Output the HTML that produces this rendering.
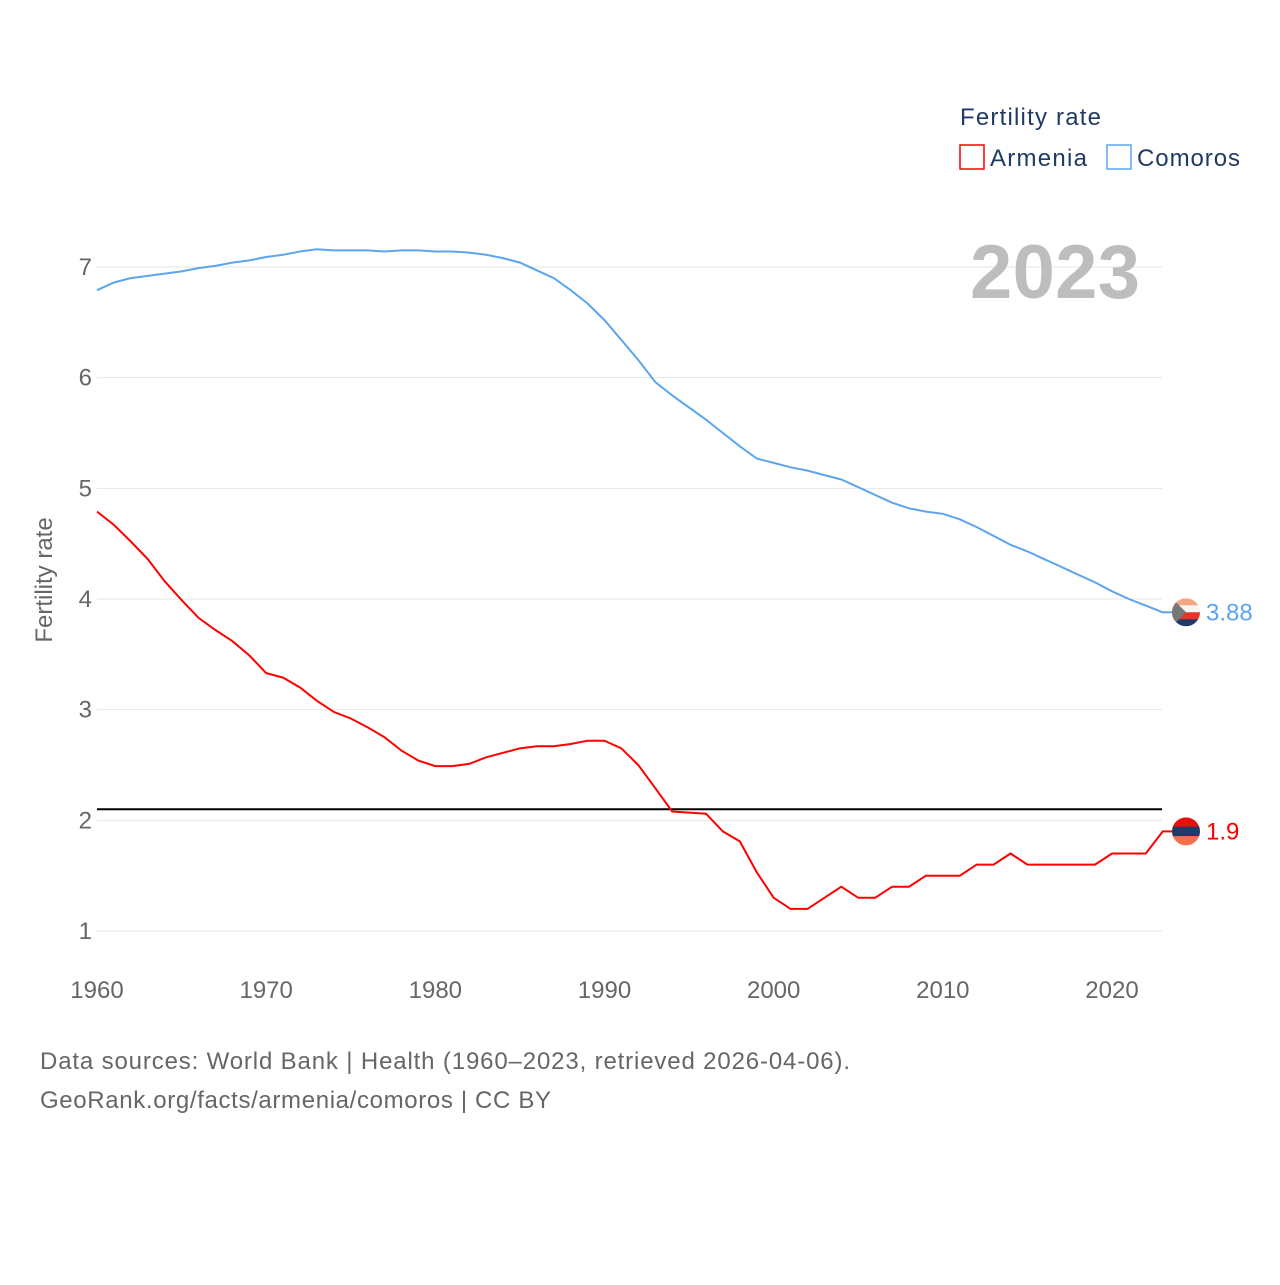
<!DOCTYPE html>
<html><head><meta charset="utf-8"><style>
body{margin:0;background:#fff;font-family:"Liberation Sans",sans-serif}
svg text{font-family:"Liberation Sans",sans-serif}
</style></head><body>
<svg width="1280" height="1280" viewBox="0 0 1280 1280">
<g id="grid"></g>
<g id="yticks"></g>
<g id="xticks"></g>
<text x="52" y="580" font-size="24" fill="#666" text-anchor="middle" transform="rotate(-90 52 580)">Fertility rate</text>
<text x="1140" y="298" font-size="76" font-weight="bold" fill="#bdbdbd" text-anchor="end" textLength="170">2023</text>
<text x="960" y="125" font-size="24" fill="#1f3a64" textLength="141">Fertility rate</text>
<g><rect x="960" y="145" width="24" height="24" fill="none" stroke="#f00" stroke-width="1.5"/><text x="990" y="166" font-size="24" fill="#1f3a64" textLength="97">Armenia</text></g>
<g><rect x="1107" y="145" width="24" height="24" fill="none" stroke="#5ca5ee" stroke-width="1.5"/><text x="1137" y="166" font-size="24" fill="#1f3a64" textLength="103">Comoros</text></g>
<g id="series"></g>
<g id="ends"></g>
<text x="40" y="1069" font-size="24" fill="#666" textLength="810">Data sources: World Bank | Health (1960–2023, retrieved 2026-04-06).</text>
<text x="40" y="1108" font-size="24" fill="#666" textLength="511">GeoRank.org/facts/armenia/comoros | CC BY</text>
</svg>
<script>
const years=[];for(let y=1960;y<=2023;y++)years.push(y);
const comoros=[6.79,6.86,6.90,6.92,6.94,6.96,6.99,7.01,7.04,7.06,7.09,7.11,7.14,7.16,7.15,7.15,7.15,7.14,7.15,7.15,7.14,7.14,7.13,7.11,7.08,7.04,6.97,6.90,6.79,6.67,6.52,6.34,6.16,5.96,5.84,5.73,5.62,5.50,5.38,5.27,5.23,5.19,5.16,5.12,5.08,5.01,4.94,4.87,4.82,4.79,4.77,4.72,4.65,4.57,4.49,4.43,4.36,4.29,4.22,4.15,4.07,4.00,3.94,3.88];
const armenia=[4.79,4.67,4.52,4.36,4.16,3.99,3.83,3.72,3.62,3.49,3.33,3.29,3.20,3.08,2.98,2.92,2.84,2.75,2.63,2.54,2.49,2.49,2.51,2.57,2.61,2.65,2.67,2.67,2.69,2.72,2.72,2.65,2.50,2.29,2.08,2.07,2.06,1.90,1.81,1.53,1.30,1.20,1.20,1.30,1.40,1.30,1.30,1.40,1.40,1.50,1.50,1.50,1.60,1.60,1.70,1.60,1.60,1.60,1.60,1.60,1.70,1.70,1.70,1.90];
const yTicks=[1,2,3,4,5,6,7];
const xTicks=[1960,1970,1980,1990,2000,2010,2020];
const replacement=2.1;
const NS="http://www.w3.org/2000/svg";
const X=v=>97+(v-1960)*(1112-97)/60;
const Y=v=>931-(v-1)*(931-267)/6;
function mk(t,a,p){const e=document.createElementNS(NS,t);for(const k in a)e.setAttribute(k,a[k]);p.appendChild(e);return e;}
const grid=document.getElementById('grid'),yt=document.getElementById('yticks'),xt=document.getElementById('xticks');
yTicks.forEach(v=>{const l=mk('line',{x1:97,x2:1162,y1:Y(v),y2:Y(v),stroke:'#e6e6e6','stroke-width':1},grid);


const t=mk('text',{x:92,y:Y(v)+8,'font-size':24,fill:'#666','text-anchor':'end'},yt);t.textContent=v;

});
xTicks.forEach(v=>{const t=mk('text',{x:X(v),y:998,'font-size':24,fill:'#666','text-anchor':'middle'},xt);t.textContent=v;

});
const s=document.getElementById('series');
const rl=mk('line',{x1:97,x2:1162,y1:Y(replacement),y2:Y(replacement),stroke:'#000','stroke-width':2},s);


function line(d,c,n){const p=mk('path',{d:d.map((v,i)=>(i?'L':'M')+X(years[i]).toFixed(1)+','+Y(v).toFixed(1)).join(''),fill:'none',stroke:c,'stroke-width':2},s);

}
line(comoros,'#5ca5ee','comoros-line');line(armenia,'#f00','armenia-line');
const e=document.getElementById('ends');
function endlab(v,c,n,stripes){const y=Y(v),cx=1186;
const g=mk('g',{},e);
mk('line',{x1:1162,x2:1172,y1:y,y2:y,stroke:c,'stroke-width':2},g);
const cp=mk('clipPath',{id:'c'+n},g);mk('circle',{cx:cx,cy:y,r:14},cp);
const h=28/stripes.length;stripes.forEach((col,i)=>mk('rect',{x:cx-14,y:y-14+i*h,width:28,height:h+0.5,fill:col,'clip-path':'url(#c'+n+')'},g));
if(n==='comoros')mk('path',{d:`M${cx-14},${y-14}L${cx},${y}L${cx-14},${y+14}Z`,fill:'#777','clip-path':'url(#c'+n+')'},g);
const t=mk('text',{x:1206,y:y+8,'font-size':24,fill:c},e);t.textContent=v;

}
endlab(comoros[comoros.length-1],'#5ca5ee','comoros',['#f4a582','#f5f5f5','#e8322a','#1f3a64']);
endlab(armenia[armenia.length-1],'#f00','armenia',['#e8100f','#1f3a64','#f4704c']);
</script>
</body></html>
